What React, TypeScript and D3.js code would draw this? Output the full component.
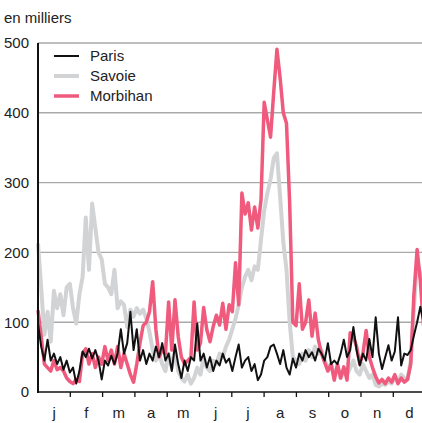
import React from "react";
import * as d3 from "d3";

const width = 422;
const height = 423;

// one value every 3 days, from 1 January
const step = 3;
const months = ["j", "f", "m", "a", "m", "j", "j", "a", "s", "o", "n", "d"];
const yTicks = [0, 100, 200, 300, 400, 500];

const paris = [
  98, 65, 45, 75, 45, 55, 40, 50, 32, 45, 28, 35, 12, 30, 58, 50, 62, 48, 60, 45,
  18, 45, 38, 52, 40, 55, 90, 55, 70, 115, 60, 90, 45, 60, 40, 55, 45, 65, 50, 70,
  45, 55, 30, 68, 40, 20, 45, 30, 50, 45, 98, 45, 55, 35, 50, 30, 45, 38, 55, 42,
  48, 30, 50, 68, 35, 45, 50, 30, 40, 17, 25, 45, 50, 65, 68, 55, 40, 60, 35, 25,
  48, 35, 55, 45, 60, 50, 57, 45, 62, 55, 45, 70, 40, 45, 40, 55, 75, 50, 60, 93,
  60, 38, 55, 45, 76, 50, 107, 55, 33, 50, 67, 45, 58, 107, 38, 55, 53, 60, 81, 100,
  122, 100,
];

const savoie = [
  213, 150, 82, 115, 72, 145, 120, 140, 110, 150, 155, 120, 98, 140, 165, 250, 175, 270, 235, 200,
  190, 155, 150, 140, 175, 120, 130, 125, 93, 118, 108, 120, 112, 118, 105, 86, 60, 45, 55, 40,
  30, 55, 35, 60, 30, 20, 15, 25, 12, 20, 35, 25, 50, 35, 30, 45, 40, 55, 50, 65,
  75, 90, 105, 125, 150, 165, 175, 160, 180, 175, 218, 260, 285, 305, 335, 342, 280, 215, 175, 100,
  50, 45, 40, 55, 45, 60, 50, 65, 55, 60, 45, 35, 40, 25, 35, 20, 30, 25, 35, 45,
  30, 25, 40, 30, 20, 25, 10, 8, 12, 10, 15, 12, 20, 15, 25, 20, 18, 45, 120, 185,
  170, 150,
];

const morbihan = [
  117, 80, 40, 35, 30, 45, 32, 35, 30, 20, 15, 12, 18, 15, 55, 62, 40, 55, 35, 50,
  40, 65, 45, 60, 40, 65, 35, 55, 40, 25, 14, 40, 70, 95, 100, 115, 158, 90, 50, 60,
  55, 129, 60, 132, 80, 50, 40, 45, 50, 129, 60, 70, 121, 89, 72, 94, 110, 96, 127, 90,
  125, 115, 185, 125, 285, 255, 271, 232, 265, 235, 275, 415, 390, 365, 430, 491, 450, 400, 385, 270,
  100, 95, 155, 90, 100, 132, 80, 113, 75, 55, 42, 30, 40, 17, 40, 20, 36, 17, 85, 80,
  65, 40, 55, 88, 50, 35, 22, 13, 18, 12, 20, 14, 25, 12, 20, 14, 18, 40, 140, 204,
  160, 95,
];

const series = [
  { name: "Savoie", values: savoie, color: "#d2d3d5", width: 4 },
  { name: "Morbihan", values: morbihan, color: "#ef5a7d", width: 3.5 },
  { name: "Paris", values: paris, color: "#111111", width: 2 },
];
const legendOrder = ["Paris", "Savoie", "Morbihan"];

const left = 38;
const x = d3.scaleLinear().domain([0, 365]).range([left, left + 387.6]);
const y = d3.scaleLinear().domain([0, 500]).range([392, 43]);

const line = d3
  .line<number>()
  .x((d, i) => x(i * step))
  .y((d) => y(d));

const font = "'Liberation Sans', Arial, sans-serif";

export default function App() {
  const monthW = 365 / 12;
  return (
    <svg
      width={width}
      height={height}
      style={{ position: "absolute", left: 0, top: 0, background: "#fff" }}
      fontFamily={font}
    >
      <text x={4} y={23} fontSize={15} fill="#222">
        en milliers
      </text>
      {yTicks.map((t) => (
        <g key={t}>
          {t > 0 && (
            <line x1={left} x2={width} y1={y(t)} y2={y(t)} stroke="#a9a9ab" strokeWidth={1.4} />
          )}
          <text x={29} y={y(t)} dy="0.36em" textAnchor="end" fontSize={15} fill="#222">
            {t}
          </text>
        </g>
      ))}
      {series.map((s) => (
        <path
          key={s.name}
          d={line(s.values) || ""}
          fill="none"
          stroke={s.color}
          strokeWidth={s.width}
          strokeLinejoin="round"
        />
      ))}
      <line x1={left} x2={width} y1={392} y2={392} stroke="#111" strokeWidth={1.5} />
      <line x1={left} x2={left} y1={43} y2={393} stroke="#111" strokeWidth={2} />
      {months.map((m, i) => (
        <g key={i}>
          {i > 0 && (
            <line x1={x(i * monthW)} x2={x(i * monthW)} y1={392} y2={397} stroke="#111" strokeWidth={1.3} />
          )}
          <text x={x((i + 0.5) * monthW)} y={418} textAnchor="middle" fontSize={15} fill="#222">
            {m}
          </text>
        </g>
      ))}
      {legendOrder.map((n, i) => {
        const s = series.find((d) => d.name === n)!;
        const ly = 56 + i * 20;
        return (
          <g key={n}>
            <line x1={54} x2={79} y1={ly} y2={ly} stroke={s.color} strokeWidth={s.width} />
            <text x={90} y={ly} dy="0.36em" fontSize={15} fill="#222">
              {n}
            </text>
          </g>
        );
      })}
    </svg>
  );
}
